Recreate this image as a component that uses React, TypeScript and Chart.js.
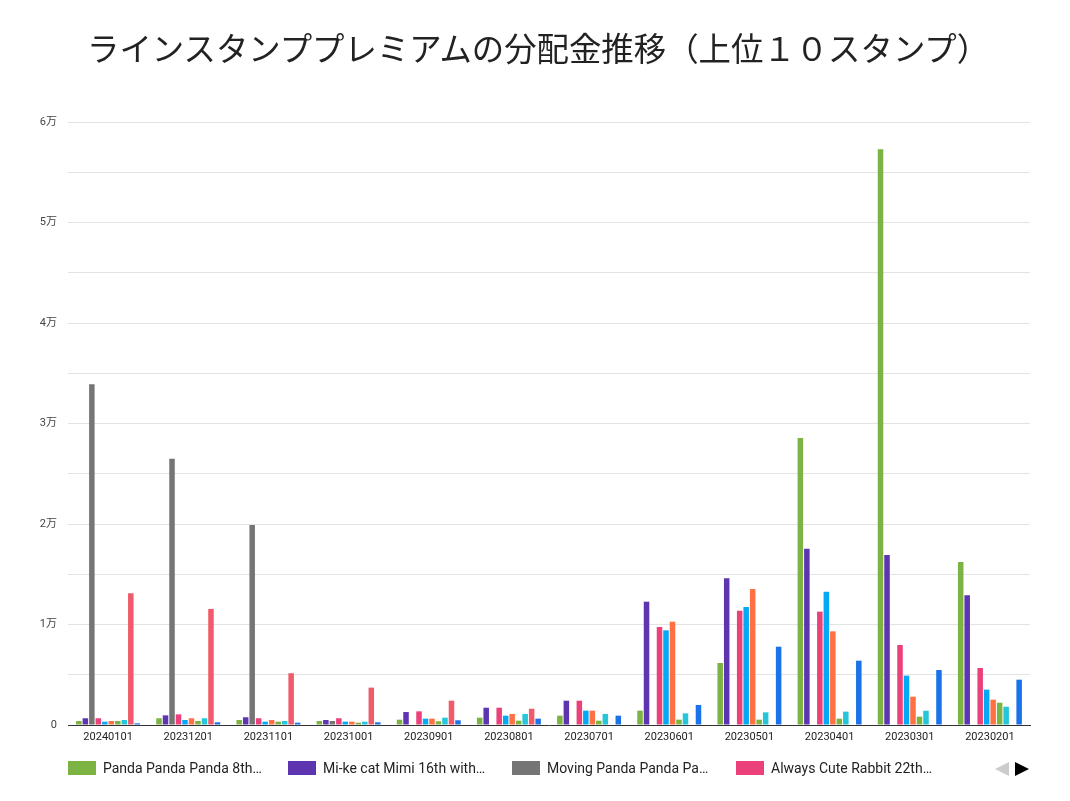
import React, { useEffect, useRef } from 'react';
import Chart from 'chart.js/auto';

const months = [
  '20240101', '20231201', '20231101', '20231001', '20230901', '20230801',
  '20230701', '20230601', '20230501', '20230401', '20230301', '20230201',
];

const seriesNames = [
  'Panda Panda Panda 8th…',
  'Mi-ke cat Mimi 16th with…',
  'Moving Panda Panda Pa…',
  'Always Cute Rabbit 22th…',
  'Stamp 5',
  'Stamp 6',
  'Stamp 7',
  'Stamp 8',
  'Stamp 9',
  'Stamp 10',
];

const seriesColors = [
  '#7cb342', '#5e35b1', '#757575', '#ec407a', '#03a9f4',
  '#ff7043', '#7cb342', '#26c6da', '#f05b6b', '#1a73e8',
];

// 分配金 (円) per month, order follows months
const s1 = [400, 670, 500, 400, 530, 730, 930, 1430, 6170, 28560, 57300, 16220];
const s2 = [670, 960, 770, 500, 1290, 1720, 2420, 12270, 14600, 17540, 16920, 12900];
const s3 = [33900, 26500, 19900, 400, null, null, null, null, null, null, null, null];
const s4 = [670, 1060, 670, 670, 1360, 1720, 2420, 9750, 11370, 11280, 7960, 5670];
const s5 = [330, 500, 330, 330, 630, 930, 1430, 9420, 11740, 13270, 4910, 3520];
const s6 = [400, 670, 500, 330, 630, 1100, 1430, 10280, 13530, 9320, 2820, 2520];
const s7 = [400, 400, 330, 230, 370, 430, 430, 530, 530, 630, 830, 2220];
const s8 = [500, 670, 400, 330, 730, 1100, 1100, 1160, 1260, 1330, 1420, 1820];
const s9 = [13100, 11550, 5150, 3720, 2420, 1620, null, null, null, null, null, null];
const s10 = [170, 270, 230, 270, 470, 630, 930, 1990, 7790, 6400, 5470, 4510];

const seriesValues = [s1, s2, s3, s4, s5, s6, s7, s8, s9, s10];

const yMax = 60000;
const yStep = 5000;

const chartTitle = 'ラインスタンププレミアムの分配金推移（上位１０スタンプ）';

const legendLeft = [68, 288, 512, 736];

const App: React.FC = () => {
  const canvasRef = useRef<HTMLCanvasElement | null>(null);
  const chartRef = useRef<Chart | null>(null);

  useEffect(() => {
    const ctx = canvasRef.current?.getContext('2d');
    if (!ctx) return;
    if (chartRef.current) chartRef.current.destroy();

    chartRef.current = new Chart(ctx, {
      type: 'bar',
      data: {
        labels: months,
        datasets: seriesValues.map((vals, i) => ({
          label: seriesNames[i],
          data: vals,
          backgroundColor: seriesColors[i],
          borderWidth: 0,
          barPercentage: 0.85,
          categoryPercentage: 0.81,
        })),
      },
      options: {
        animation: false,
        responsive: true,
        maintainAspectRatio: false,
        layout: { padding: { left: 0, right: 40, top: 122, bottom: 46 } },
        plugins: {
          legend: { display: false },
          tooltip: { enabled: false },
          title: { display: false },
        },
        scales: {
          x: {
            grid: { display: false, drawTicks: false },
            border: { color: '#333', width: 1 },
            ticks: {
              color: '#222',
              padding: 6,
              maxRotation: 0,
              autoSkip: false,
              font: { family: 'Roboto, sans-serif', size: 11 },
            },
            afterFit: (scale: any) => { scale.height = 30; },
          },
          y: {
            min: 0,
            max: yMax,
            border: { display: false },
            grid: { color: '#e3e3e3', lineWidth: 1, drawTicks: false },
            ticks: {
              stepSize: yStep,
              padding: 11,
              color: '#444',
              font: { family: "Roboto, 'Noto Sans CJK JP', sans-serif", size: 11 },
              callback: (v: any) => {
                const n = Number(v);
                if (n === 0) return '0';
                if (n % 10000 !== 0) return '';
                return `${n / 10000}万`;
              },
            },
            afterFit: (scale: any) => { scale.width = 68; },
          },
        },
      },
    } as any);

    return () => {
      if (chartRef.current) {
        chartRef.current.destroy();
        chartRef.current = null;
      }
    };
  }, []);

  return (
    <div style={{ position: 'fixed', left: 0, top: 0, width: 1070, height: 801, background: '#fff' }}>
      <canvas ref={canvasRef} />
      <div style={{
        position: 'absolute', left: 87, top: 28, lineHeight: '38px', whiteSpace: 'nowrap',
        fontFamily: "'Noto Sans CJK JP', 'Noto Sans', sans-serif", fontSize: 32.4, color: '#222',
      }}>
        {chartTitle}
      </div>
      {legendLeft.map((x, i) => (
        <div
          key={i}
          style={{
            position: 'absolute', left: x, top: 758, height: 20, display: 'flex', alignItems: 'center',
            fontFamily: 'Roboto, sans-serif', fontSize: 14, color: '#222', whiteSpace: 'nowrap',
          }}
        >
          <span style={{ display: 'inline-block', width: 28, height: 14, background: seriesColors[i], marginRight: 7 }} />
          <span>{seriesNames[i]}</span>
        </div>
      ))}
      <div style={{
        position: 'absolute', left: 995, top: 762, width: 0, height: 0,
        borderTop: '7px solid transparent', borderBottom: '7px solid transparent', borderRight: '14px solid #cccccc',
      }} />
      <div style={{
        position: 'absolute', left: 1015, top: 762, width: 0, height: 0,
        borderTop: '7px solid transparent', borderBottom: '7px solid transparent', borderLeft: '14px solid #000',
      }} />
    </div>
  );
};

export default App;
